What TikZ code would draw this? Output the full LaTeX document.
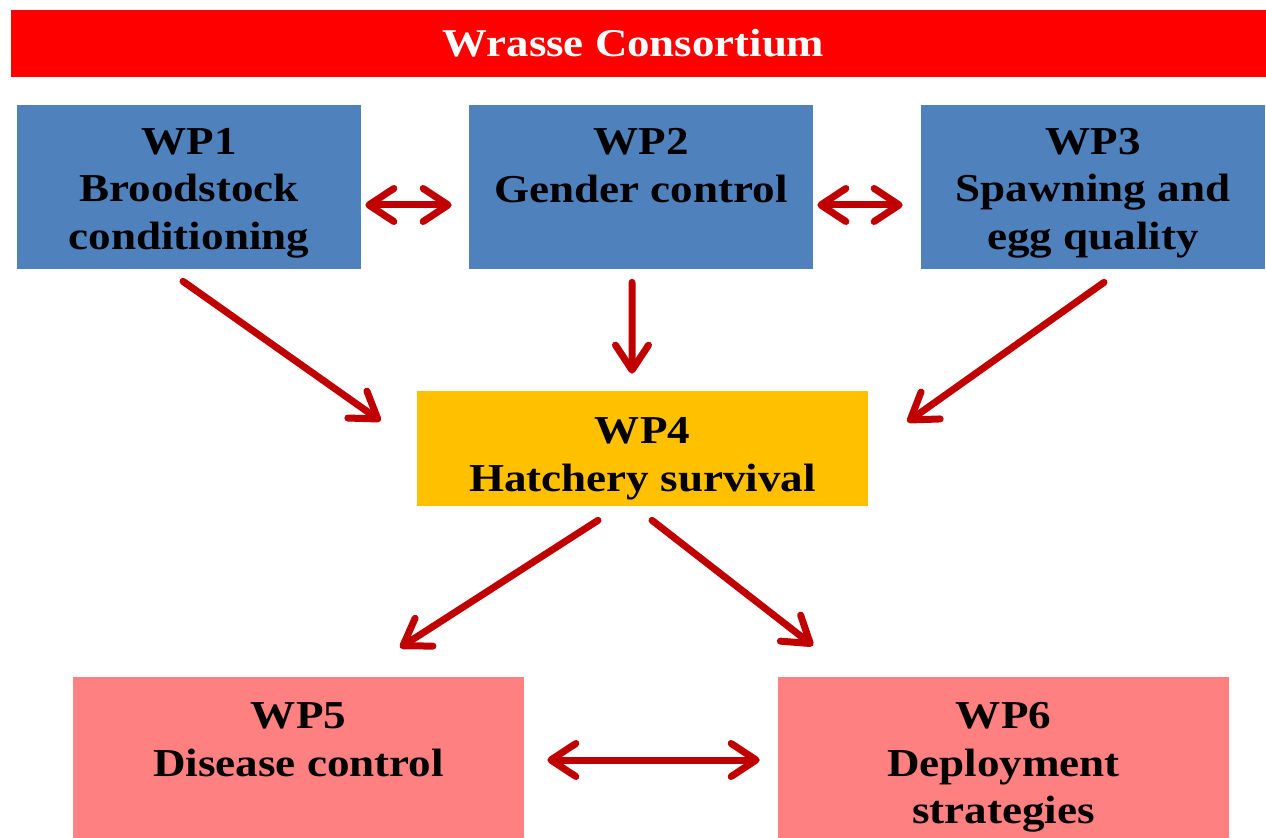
\documentclass[tikz,border=0pt]{standalone}
\usepackage{fontspec}
\setmainfont{Liberation Serif}[FakeStretch=1.14]
\usetikzlibrary{arrows.meta,calc}

\definecolor{titlered}{HTML}{FF0000}
\definecolor{wpblue}{HTML}{4F81BD}
\definecolor{wpyellow}{HTML}{FFC000}
\definecolor{wppink}{HTML}{FF8080}
\definecolor{arrowred}{HTML}{C00000}

% strut on the first line pushes the text down a little
\newcommand{\wplift}[1][22pt]{\rule{0pt}{#1}}

\begin{document}
\begin{tikzpicture}[
    wpbox/.style={minimum width=6.88cm, minimum height=3.28cm, align=center,
                  font=\fontsize{22.5}{27}\selectfont\bfseries, inner sep=0pt},
    link/.style={arrowred, line width=0.14cm, line cap=round,
                 {Straight Barb[length=0.5cm,width=0.66cm,round]}-{Straight Barb[length=0.5cm,width=0.66cm,round]}},
    oneway/.style={arrowred, line width=0.14cm, line cap=round,
                 -{Straight Barb[length=0.5cm,width=0.66cm,round]}}
  ]
  \useasboundingbox (0,0) rectangle (25.32,16.74);

  \node[fill=titlered, text=white, minimum width=25.1cm, minimum height=1.34cm,
        inner sep=0pt, font=\fontsize{22.4}{27}\selectfont\bfseries] (title) at (12.77, 15.87) {\hspace*{-0.2cm}Wrasse Consortium};

  \node[wpbox, fill=wpblue] (wp1) at (3.78, 13.0) {\wplift WP1\\Broodstock\\conditioning};
  \node[wpbox, fill=wpblue] (wp2) at (12.82, 13.0) {\wplift[22.5pt]WP2\\Gender control\\\vphantom{g}};
  \node[wpbox, fill=wpblue] (wp3) at (21.86, 13.0) {\wplift WP3\\Spawning and\\egg quality};

  \node[wpbox, fill=wpyellow, minimum width=9.02cm, minimum height=2.3cm] (wp4) at (12.85, 7.77) {\wplift[26.6pt]WP4\\Hatchery survival};

  \node[wpbox, fill=wppink, minimum width=9.02cm, minimum height=3.4cm] (wp5) at (5.97, 1.5) {\wplift[21.4pt]WP5\\Disease control\\\vphantom{g}};
  \node[wpbox, fill=wppink, minimum width=9.02cm, minimum height=3.4cm] (wp6) at (20.07, 1.5) {\wplift[21.4pt]WP6\\Deployment\\strategies};

  % links between the work packages
  \draw[link] ($(wp1.east)+(0.08,-0.36)$) -- ($(wp2.west)+(-0.34,-0.36)$);
  \draw[link] ($(wp2.east)+(0.08,-0.36)$) -- ($(wp3.west)+(-0.36,-0.36)$);

  \draw[oneway] ($(wp1.south)+(-0.12,-0.24)$) -- ($(wp4.west)+(-0.72,0.55)$);
  \draw[oneway] ($(wp2.south)+(-0.18,-0.26)$) -- ($(wp4.north)+(-0.21,0.34)$);
  \draw[oneway] ($(wp3.south)+(0.22,-0.26)$) -- ($(wp4.east)+(0.78,0.53)$);

  \draw[oneway] ($(wp4.south)+(-0.89,-0.28)$) -- ($(wp5.north)+(2.03,0.58)$);
  \draw[oneway] ($(wp4.south)+(0.19,-0.28)$) -- ($(wp6.north)+(-3.81,0.62)$);

  \draw[link] ($(wp5.east)+(0.46,0.04)$) -- ($(wp6.west)+(-0.36,0.04)$);
\end{tikzpicture}
\end{document}
